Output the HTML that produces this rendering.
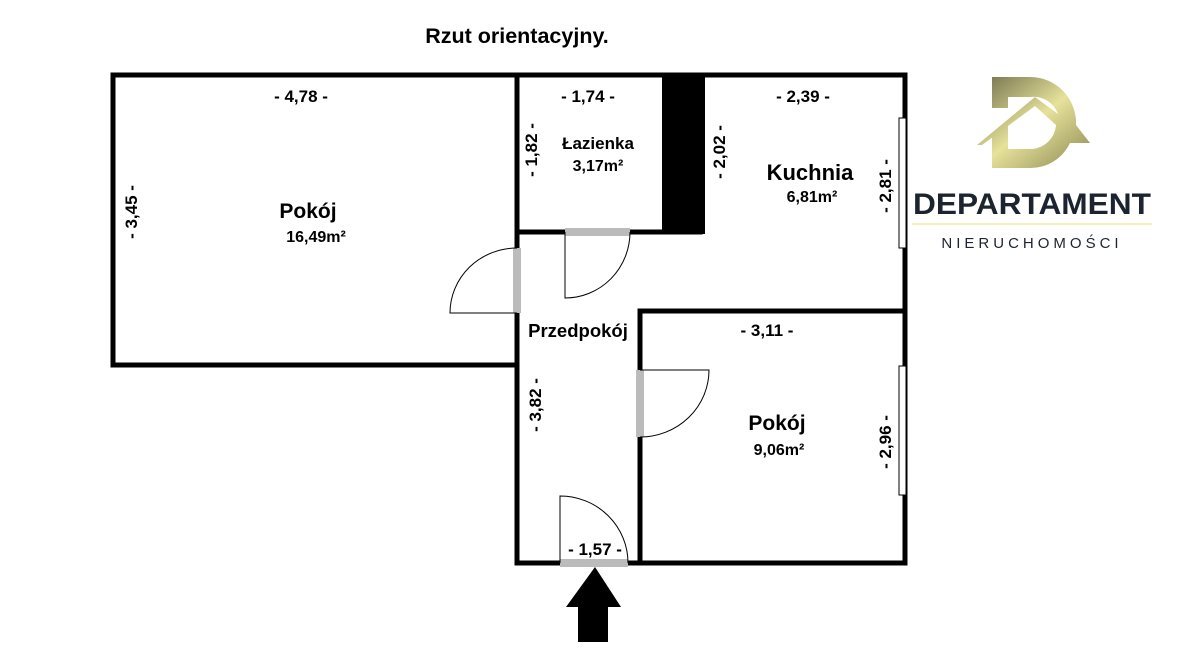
<!DOCTYPE html>
<html><head><meta charset="utf-8"><style>
html,body{margin:0;padding:0;background:#fff;}
svg{display:block;font-family:"Liberation Sans",sans-serif;}
</style></head><body>
<svg width="1200" height="648" viewBox="0 0 1200 648" xmlns="http://www.w3.org/2000/svg">
<defs><linearGradient id="g" x1="0" y1="0" x2="1" y2="1">
<stop offset="0" stop-color="#6f6c4a"/><stop offset="0.5" stop-color="#e6e29a"/><stop offset="1" stop-color="#8a8650"/></linearGradient></defs>
<text x="517" y="43" font-size="21.5" font-weight="bold" text-anchor="middle">Rzut orientacyjny.</text>
<g stroke="#000" stroke-width="5" stroke-linecap="square" fill="none">
<path d="M113 75 H905 V563 H517 V75"/>
<path d="M113 75 V365 H517"/>
<path d="M517 232 H700"/>
<path d="M640 311 H905"/>
<path d="M640 311 V563"/>
</g>
<rect x="662" y="75" width="43" height="159" fill="#000"/>
<rect x="899" y="118" width="7" height="130" fill="#fff" stroke="#000" stroke-width="1"/>
<rect x="899" y="366" width="7" height="129" fill="#fff" stroke="#000" stroke-width="1"/>
<rect x="513" y="248" width="8" height="65" fill="#bbb"/>
<rect x="565" y="228" width="65" height="8" fill="#bbb"/>
<rect x="636" y="370" width="8" height="67" fill="#bbb"/>
<rect x="560" y="559" width="68" height="8" fill="#bbb"/>
<g stroke="#000" stroke-width="1" fill="none">
<path d="M517 313 H450 A67 65 0 0 1 517 248"/>
<path d="M565 232 V298 A65 66 0 0 0 630 232"/>
<path d="M640 370 H709 A69 67 0 0 1 640 437"/>
<path d="M560 563 V496 A68 67 0 0 1 628 563"/>
</g>
<path d="M595 567 L621 607 L608 607 L608 642 L578 642 L578 607 L566 607 Z" fill="#000"/>
<g font-size="17" font-weight="bold" text-anchor="middle">
<text x="301" y="102">- 4,78 -</text>
<text x="588" y="102">- 1,74 -</text>
<text x="803" y="102">- 2,39 -</text>
<text x="767" y="336">- 3,11 -</text>
<text x="595" y="555">- 1,57 -</text>
<text transform="translate(137,212) rotate(-90)">- 3,45 -</text>
<text transform="translate(537,150) rotate(-90)">- 1,82 -</text>
<text transform="translate(725,152) rotate(-90)">- 2,02 -</text>
<text transform="translate(891,186) rotate(-90)">- 2,81 -</text>
<text transform="translate(541,405) rotate(-90)">- 3,82 -</text>
<text transform="translate(891,442) rotate(-90)">- 2,96 -</text>
<text x="308" y="218" font-size="21">Pokój</text>
<text x="316" y="242" font-size="16">16,49m²</text>
<text x="598" y="149" font-size="17">Łazienka</text>
<text x="598" y="171" font-size="16">3,17m²</text>
<text x="810" y="180" font-size="22">Kuchnia</text>
<text x="812" y="202" font-size="16">6,81m²</text>
<text x="578" y="337" font-size="18.5">Przedpokój</text>
<text x="777" y="430" font-size="21">Pokój</text>
<text x="779" y="455" font-size="16">9,06m²</text>
</g>
<path d="M992 77 H1030 A46 46 0 0 1 1076 125 L1090 143 L1070 143 A44 44 0 0 1 1030 168 H992 V135 L1008 120 V149 H1030 A26 26 0 0 0 1056 125 L1035 106 L982 145 L977 145 L1035 97 L1058 114 A26 26 0 0 0 1030 97 H1008 V108 H992 Z" fill="url(#g)"/>
<text x="1032" y="214" font-size="30" font-weight="bold" fill="#1c2430" text-anchor="middle" textLength="238" lengthAdjust="spacingAndGlyphs">DEPARTAMENT</text>
<line x1="912" y1="224" x2="1152" y2="224" stroke="#f0e8a0" stroke-width="1.5"/>
<text x="1032" y="248" font-size="15" fill="#1c2430" text-anchor="middle" letter-spacing="4">NIERUCHOMOŚCI</text>
</svg>
</body></html>
